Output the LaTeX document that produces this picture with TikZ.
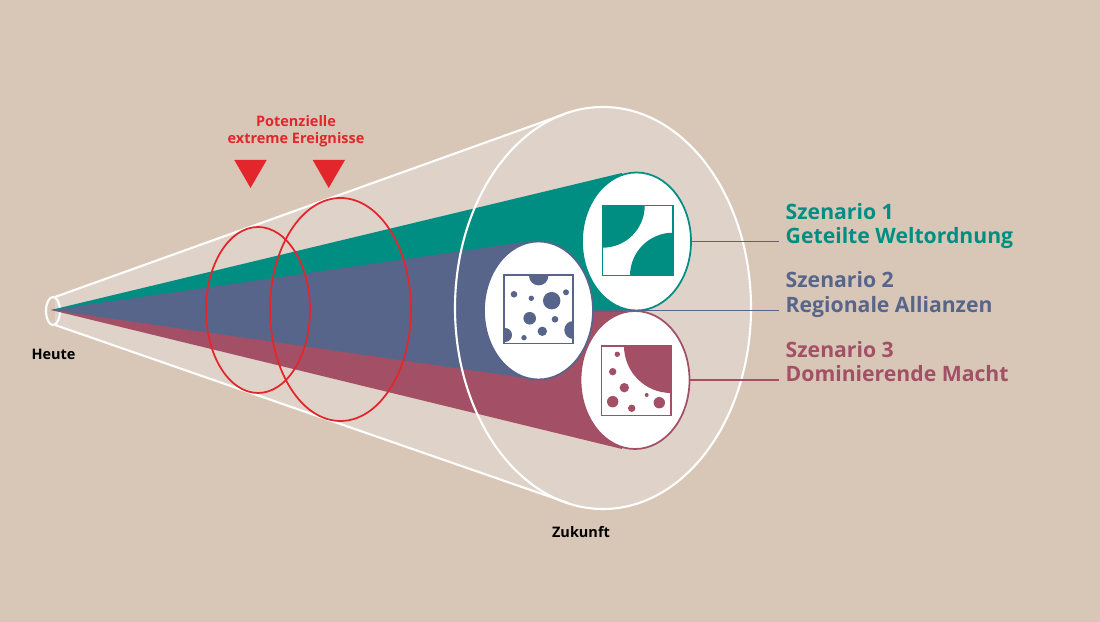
\documentclass[tikz,border=0pt]{standalone}
\usepackage{fontspec}
\setmainfont{Open Sans}
\usetikzlibrary{shapes.geometric}
\definecolor{sand}{HTML}{D8C7B7}
\definecolor{pale}{HTML}{DFD2C8}
\definecolor{teal1}{HTML}{008E83}
\definecolor{slate1}{HTML}{58658A}
\definecolor{wine1}{HTML}{A35066}
\definecolor{alert}{HTML}{E3262B}

\begin{document}
\begin{tikzpicture}[x=1cm, y=-1cm,
  rim/.style={draw=white, line width=0.6pt},
  scen/.style={ellipse, draw, fill=white, line width=0.5pt, inner sep=0pt, minimum width=1.09cm, minimum height=1.38cm},
  event/.style={ellipse, draw=alert, line width=0.5pt, inner sep=0pt},
  tag/.style={font=\fontsize{6.03}{6.97}\selectfont\bfseries, align=left, anchor=base west, inner sep=0pt},
  capt/.style={font=\fontsize{4.12}{4.9}\selectfont\bfseries, align=center, inner sep=0pt},
  lead/.style={line width=0.45pt},
  icon/.style={line width=0.45pt}]
\useasboundingbox[fill=sand] (0,0) rectangle (11,6.22);
% cone
\coordinate (tipup) at (0.55,2.97);
\coordinate (tipdn) at (0.55,3.25);
\coordinate (baseup) at (5.65,1.14);
\coordinate (basedn) at (5.68,5.03);
\node[ellipse, fill=pale, inner sep=0pt, minimum width=2.96cm, minimum height=4.02cm] (future) at (6.03,3.08) {};
\fill[pale] (tipup) -- (baseup) -- (basedn) -- (tipdn) -- cycle;
\node[ellipse, rim, inner sep=0pt, minimum width=0.14cm, minimum height=0.28cm] (today) at (0.53,3.11) {};
% wedges
\coordinate (apex) at (0.51,3.10);
\fill[teal1] (apex) -- (6.22,1.73) -- (6.36,3.12) -- cycle;
\fill[wine1] (apex) -- (6.22,4.49) -- (6.35,3.12) -- cycle;
\fill[slate1] (apex) -- (5.25,2.42) -- (5.25,3.78) -- cycle;
\draw[rim] (tipup) -- (baseup);
\draw[rim] (tipdn) -- (basedn);
\node[ellipse, rim, inner sep=0pt, minimum width=2.96cm, minimum height=4.02cm] (futurerim) at (6.03,3.08) {};
% future scenarios
\node[scen, draw=teal1] (sone) at (6.365,2.415) {};
\node[scen, draw=wine1] (sthree) at (6.35,3.80) {};
\node[scen, draw=slate1] (stwo) at (5.385,3.105) {};
% extreme events
\node[event, minimum width=1.04cm, minimum height=1.66cm] (evone) at (2.58,3.10) {};
\node[event, minimum width=1.41cm, minimum height=2.23cm] (evtwo) at (3.405,3.095) {};
\node[capt, text=alert] (evtext) at (2.96,1.31) {Potenzielle\\extreme Ereignisse};
\fill[alert] (2.343,1.60) -- (2.667,1.60) -- (2.505,1.88) -- cycle;
\fill[alert] (3.127,1.60) -- (3.45,1.60) -- (3.287,1.88) -- cycle;
% icon one
\begin{scope}
\clip (6.027,2.057) rectangle (6.73,2.757);
\fill[teal1] (6.027,2.057) circle (0.42);
\fill[teal1] (6.73,2.757) circle (0.43);
\end{scope}
\draw[icon, draw=teal1] (6.027,2.057) rectangle (6.73,2.757);
% icon two
\begin{scope}
\clip (5.04,2.753) rectangle (5.73,3.437);
\foreach \px/\py/\pr in {5.387/2.757/.097, 5.517/3.007/.087, 5.14/2.943/.033, 5.313/2.983/.027, 5.66/2.923/.03, 5.297/3.183/.063, 5.55/3.193/.033, 5.423/3.313/.047, 5.24/3.377/.027, 5.05/3.35/.07, 5.733/3.30/.09}
  \fill[slate1] (\px,\py) circle (\pr);
\end{scope}
\draw[icon, draw=slate1] (5.04,2.753) rectangle (5.73,3.437);
% icon three
\begin{scope}
\clip (6.013,3.46) rectangle (6.71,4.157);
\fill[wine1] (6.71,3.46) circle (0.47);
\foreach \px/\py/\pr in {6.173/3.543/.027, 6.127/3.717/.037, 6.243/3.877/.047, 6.127/4.017/.057, 6.317/4.083/.037, 6.467/3.95/.02, 6.593/4.027/.057}
  \fill[wine1] (\px,\py) circle (\pr);
\end{scope}
\draw[icon, draw=wine1] (6.013,3.46) rectangle (6.71,4.157);
% labels
\node[tag, text=teal1] (tone) at (7.85,2.437) {Szenario 1\\Geteilte Weltordnung};
\node[tag, text=slate1] (ttwo) at (7.85,3.125) {Szenario 2\\Regionale Allianzen};
\node[tag, text=wine1] (tthree) at (7.85,3.817) {Szenario 3\\Dominierende Macht};
\coordinate (endone) at (7.79,2.415);
\coordinate (endtwo) at (7.79,3.105);
\coordinate (endthree) at (7.79,3.80);
\draw[lead, teal1] (sone.east) -- (endone);
\draw[lead, slate1] (stwo.east) -- (endtwo);
\draw[lead, wine1] (sthree.east) -- (endthree);
\node[capt] (now) at (0.535,3.54) {Heute};
\node[capt] (later) at (5.81,5.32) {Zukunft};
\end{tikzpicture}
\end{document}
